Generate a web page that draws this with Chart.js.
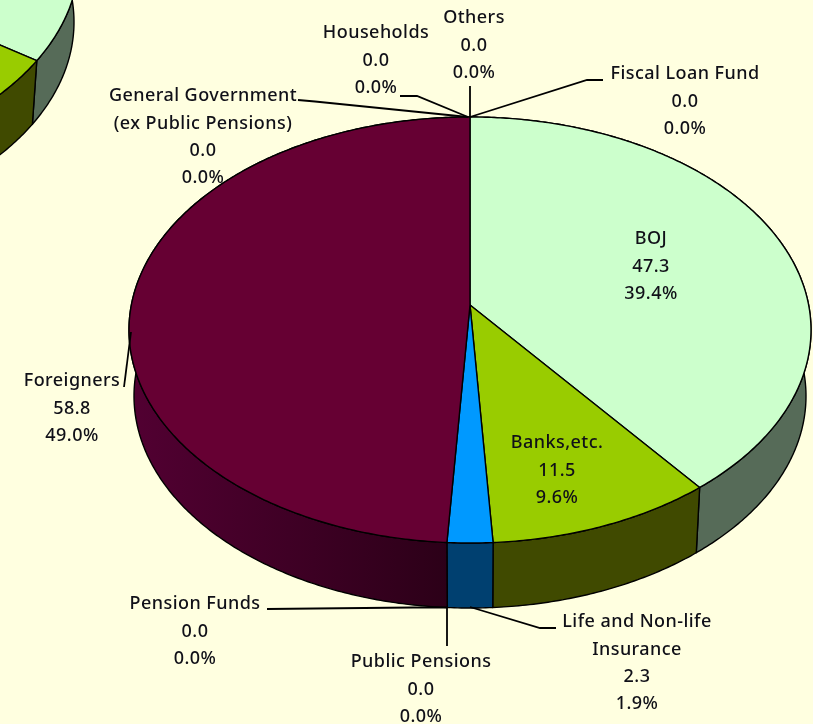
<!DOCTYPE html>
<html><head><meta charset="utf-8">
<script src="https://cdn.jsdelivr.net/npm/chart.js@4"></script>
<style>
html,body{margin:0;padding:0;background:#ffffe0;overflow:hidden}
canvas{position:absolute;left:0;top:0;filter:blur(0.6px)}
</style></head><body>
<canvas id="behind" width="813" height="724"></canvas>
<canvas id="main" width="813" height="724"></canvas>
<script>
// Data
const categories=["Fiscal Loan Fund","BOJ","Banks,etc.","Life and Non-life Insurance","Public Pensions","Pension Funds","Foreigners","General Government (ex Public Pensions)","Households","Others"];
const values=[0,47.3,11.5,2.3,0,0,58.8,0,0,0];
const behindCategories=["BOJ","Banks,etc.","Life and Non-life Insurance","Foreigners"];
const behindValues=[34.6,13,2,50.4];

// Style
const topColors=["#ccffcc","#ccffcc","#99cc00","#0099ff","#0099ff","#0099ff","#660033","#660033","#660033","#660033"];
const sideColors=["#566b58","#566b58","#404a00","#004070","#004070","#004070","maroon","maroon","maroon","maroon"];
const behindTop=["#ccffcc","#99cc00","#0099ff","#660033"];
const behindSide=["#566b58","#404a00","#004070","maroon"];

// Layout of the text and leader lines
const labelLayout=[
 {i:0,x:685,y:74,lines:["Fiscal Loan Fund"]},
 {i:1,x:651,y:239,lines:["BOJ"]},
 {i:2,x:557,y:443,lines:["Banks,etc."]},
 {i:3,x:637,y:622,lines:["Life and Non-life","Insurance"]},
 {i:4,x:421,y:662,lines:["Public Pensions"]},
 {i:5,x:195,y:604,lines:["Pension Funds"]},
 {i:6,x:72,y:381,lines:["Foreigners"]},
 {i:7,x:203,y:96,lines:["General Government","(ex Public Pensions)"]},
 {i:8,x:376,y:33,lines:["Households"]},
 {i:9,x:474,y:18,lines:["Others"]}
];
const leaders=[
 [[470,86],[470,117]],
 [[603,80],[587,80],[470,117]],
 [[400,96],[417,96],[468,117]],
 [[298,100],[315,101.5],[468,117]],
 [[124,387],[131,332]],
 [[447,608],[447,646]],
 [[267,609],[413,607.5],[447,607.5]],
 [[556,628],[540,628],[470,607]]
];
const mainGeo={cx:470,cy:330,rx:341,ry:213,by:396,brx:336,bry:212,a:25/213};
const behindGeo={cx:-262,cy:-42,rx:341,ry:213,by:22,brx:336,bry:212,a:25/213};

function unit(theta,a){
  const x=Math.sin(theta),y=-Math.cos(theta),d=1-a*y;
  return [x*Math.sqrt(1-a*a)/d,(y-a)/d];
}
function samples(s,e){
  const n=Math.max(2,Math.ceil((e-s)/0.01)),o=[];
  for(let k=0;k<=n;k++)o.push(s+(e-s)*k/n+Math.PI/2);
  return o;
}
function pie3d(geo,tops,sides,withText){
  return {id:"pie3d",
  beforeDatasetDraw(chart,args){
    const c=chart.ctx,g=geo,arcs=chart.getDatasetMeta(args.index).data;
    const T=t=>{const u=unit(t,g.a);return [g.cx+g.rx*u[0],g.cy+g.ry*u[1]]};
    const B=t=>{const u=unit(t,g.a);return [g.cx+g.brx*u[0],g.by+g.bry*u[1]]};
    const apex=[g.cx,g.cy-g.a*g.ry];
    c.save();c.lineJoin="round";
    arcs.forEach((arc,i)=>{
      if(arc.endAngle-arc.startAngle<1e-6)return;
      const ts=samples(arc.startAngle,arc.endAngle);
      c.beginPath();
      ts.forEach((t,k)=>{const p=T(t);k?c.lineTo(p[0],p[1]):c.moveTo(p[0],p[1])});
      ts.slice().reverse().forEach(t=>{const p=B(t);c.lineTo(p[0],p[1])});
      c.closePath();
      if(sides[i]==="maroon"){
        const gr=c.createLinearGradient(g.cx-340,0,g.cx-23,0);
        gr.addColorStop(0,"#520032");gr.addColorStop(1,"#2c0018");
        c.fillStyle=gr;
      }else c.fillStyle=sides[i];
      c.fill();c.strokeStyle="#000";c.lineWidth=1.4;c.stroke();
    });
    arcs.forEach((arc,i)=>{
      if(arc.endAngle-arc.startAngle<1e-6)return;
      const ts=samples(arc.startAngle,arc.endAngle);
      c.beginPath();c.moveTo(apex[0],apex[1]);
      ts.forEach(t=>{const p=T(t);c.lineTo(p[0],p[1])});
      c.closePath();
      c.fillStyle=tops[i];c.fill();c.strokeStyle="#000";c.lineWidth=1.4;c.stroke();
    });
    c.restore();
    return false;
  },
  afterDraw(chart){
    if(!withText)return;
    const c=chart.ctx,total=values.reduce((a,b)=>a+b,0);
    c.save();
    c.strokeStyle="#000";c.lineWidth=1.8;
    leaders.forEach(l=>{c.beginPath();l.forEach((p,k)=>k?c.lineTo(p[0],p[1]):c.moveTo(p[0],p[1]));c.stroke()});
    c.fillStyle="#101018";c.textAlign="center";c.textBaseline="middle";
    c.font='500 18px "Noto Sans"';c.letterSpacing="0.45px";
    labelLayout.forEach(L=>{
      const v=values[L.i];
      const rows=L.lines.concat([v.toFixed(1),(v/total*100).toFixed(1)+"%"]);
      rows.forEach((r,k)=>c.fillText(r,L.x,L.y+k*27.4));
    });
    c.restore();
  }};
}
function build(id,labels,data,tops,sides,geo,withText){
  return new Chart(document.getElementById(id),{
    type:"pie",
    data:{labels:labels,datasets:[{data:data,backgroundColor:tops,borderColor:"#000",borderWidth:1}]},
    options:{responsive:false,animation:false,events:[],plugins:{legend:{display:false},tooltip:{enabled:false}}},
    plugins:[pie3d(geo,tops,sides,withText)]
  });
}
build("behind",behindCategories,behindValues,behindTop,behindSide,behindGeo,false);
build("main",categories,values,topColors,sideColors,mainGeo,true);
</script>
</body></html>
